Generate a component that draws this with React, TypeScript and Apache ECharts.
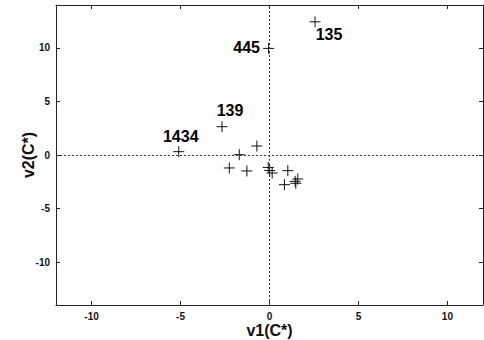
import React, { useEffect, useRef } from "react";
import * as echarts from "echarts";

const pointNames = ["135", "445", "139", "1434", "", "", "", "", "", "", "", "", "", "", "", ""];
const v1Values = [2.56, -0.05, -2.67, -5.1, -0.71, -1.7, -2.26, -1.27, -0.07, 0.01, 0.15, 1.03, 0.84, 1.44, 1.59, 1.48];
const v2Values = [12.43, 9.95, 2.64, 0.31, 0.84, 0.03, -1.21, -1.49, -1.17, -1.45, -1.68, -1.46, -2.77, -2.46, -2.24, -2.64];
const tickValues = [-10, -5, 0, 5, 10];
const xName = "v1(C*)";
const yName = "v2(C*)";

const labelOffsets: Record<string, [number, number]> = {
  "135": [14, 13],
  "445": [-22, -1],
  "139": [8, -16],
  "1434": [2, -15],
};

const FONT = "'Liberation Sans', Arial, sans-serif";

export default function App() {
  const ref = useRef<HTMLDivElement>(null);
  useEffect(() => {
    if (!ref.current) return;
    const chart = echarts.init(ref.current, null, { renderer: "svg" });
    const data = v1Values.map((x, i) => {
      const name = pointNames[i];
      const item: any = { name, value: [x, v2Values[i]] };
      if (name) {
        item.label = {
          show: true,
          position: "inside",
          offset: labelOffsets[name] || [0, 0],
          formatter: "{b}",
          fontSize: 16,
          fontWeight: "bold",
          color: "#000",
          fontFamily: FONT,
          textBorderWidth: 0,
        };
      }
      return item;
    });
    const axisCommon = {
      type: "value" as const,
      splitLine: { show: false },
      axisLine: { show: true, onZero: false, lineStyle: { color: "#222", width: 1 } },
      axisTick: { show: true, inside: true, length: 4, customValues: tickValues, lineStyle: { color: "#222" } },
    };
    const labelCommon = {
      customValues: tickValues,
      fontSize: 10,
      lineHeight: 10,
      fontWeight: "bold" as const,
      color: "#111",
      fontFamily: FONT,
    };
    const nameStyle = { fontSize: 16, lineHeight: 16, fontWeight: "bold", color: "#111", fontFamily: FONT };
    chart.setOption({
      animation: false,
      backgroundColor: "#fff",
      grid: { left: 56, right: 1, top: 5, bottom: 35, outerBoundsMode: "none", containLabel: false },
      xAxis: [
        {
          ...axisCommon,
          position: "bottom",
          min: -12,
          max: 12,
          name: xName,
          nameLocation: "middle",
          nameGap: 17,
          nameMoveOverlap: false,
          nameTextStyle: nameStyle,
          axisLabel: { ...labelCommon, margin: 6 },
        },
        {
          ...axisCommon,
          position: "top",
          min: -12,
          max: 12,
          axisLabel: { show: false },
        },
      ],
      yAxis: [
        {
          ...axisCommon,
          position: "left",
          min: -14,
          max: 14,
          name: yName,
          nameLocation: "middle",
          nameGap: 20,
          nameMoveOverlap: false,
          nameTextStyle: nameStyle,
          axisLabel: { ...labelCommon, margin: 6 },
        },
        {
          ...axisCommon,
          position: "right",
          min: -14,
          max: 14,
          axisLabel: { show: false },
        },
      ],
      series: [
        {
          type: "scatter",
          xAxisIndex: 0,
          yAxisIndex: 0,
          symbol: "path://M0,5L10,5M5,0L5,10",
          symbolSize: 11,
          itemStyle: { color: "transparent", borderColor: "#111", borderWidth: 1, opacity: 1 },
          data,
          markLine: {
            silent: true,
            symbol: "none",
            label: { show: false },
            lineStyle: { type: [2, 2], color: "#333", width: 1 },
            data: [{ xAxis: 0 }, { yAxis: 0 }],
          },
        },
      ],
    });
    return () => chart.dispose();
  }, []);
  return (
    <div
      ref={ref}
      style={{ position: "fixed", left: 0, top: 0, width: 484, height: 340, background: "#fff" }}
    />
  );
}
